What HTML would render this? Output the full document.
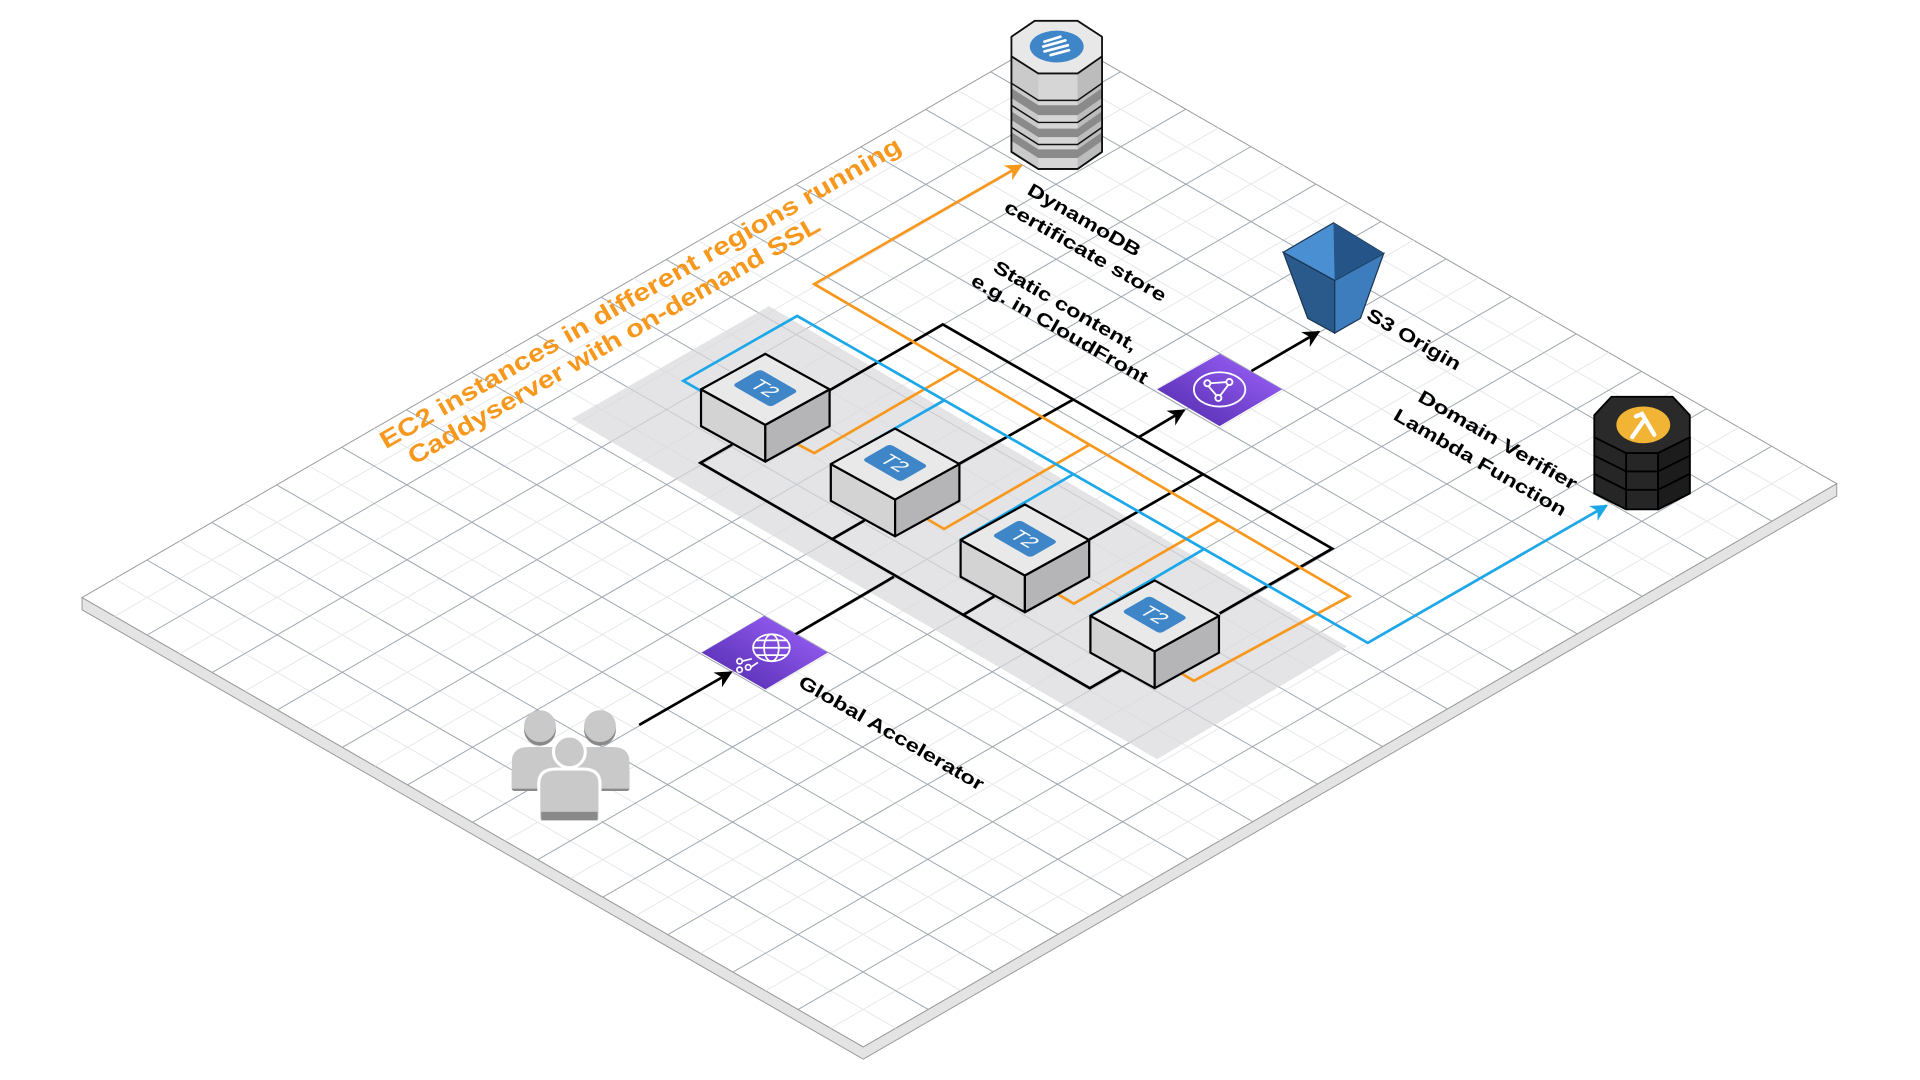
<!DOCTYPE html>
<html><head><meta charset="utf-8"><style>
html,body{margin:0;padding:0;background:#fff;width:1920px;height:1080px;overflow:hidden}
svg{display:block}
text{font-family:"Liberation Sans",sans-serif;font-weight:bold}
</style></head><body>
<svg width="1920" height="1080" viewBox="0 0 1568 882" xmlns="http://www.w3.org/2000/svg">
<defs>
<marker id="ab" viewBox="0 0 10 10" refX="9" refY="5" markerWidth="14" markerHeight="14" markerUnits="userSpaceOnUse" orient="auto"><path d="M0,0 L10,5 L0,10 L3,5 Z" fill="#000"/></marker>
<marker id="ao" viewBox="0 0 10 10" refX="9" refY="5" markerWidth="14" markerHeight="14" markerUnits="userSpaceOnUse" orient="auto"><path d="M0,0 L10,5 L0,10 L3,5 Z" fill="#f7981d"/></marker>
<marker id="abl" viewBox="0 0 10 10" refX="9" refY="5" markerWidth="14" markerHeight="14" markerUnits="userSpaceOnUse" orient="auto"><path d="M0,0 L10,5 L0,10 L3,5 Z" fill="#1ba7e8"/></marker>
<linearGradient id="pg" x1="0" y1="1" x2="1" y2="0"><stop offset="0" stop-color="#4d27a8"/><stop offset="1" stop-color="#a166ff"/></linearGradient>
</defs>
<polygon points="67,488 705,855 1500,395 1500,405 705,865 67,498" fill="#e4e4e4" stroke="#9a9a9a" stroke-width="0.8"/>
<polygon points="67,488 862,28 1500,395 705,855" fill="#fff" stroke="#9a9a9a" stroke-width="0.8"/>
<g transform="matrix(53.167 30.583 53 -30.667 67 488)" fill="none">
<path vector-effect="non-scaling-stroke" stroke="#e6e8ea" stroke-width="1" d="M0.5,0 L0.5,15 M1.5,0 L1.5,15 M2.5,0 L2.5,15 M3.5,0 L3.5,15 M4.5,0 L4.5,15 M5.5,0 L5.5,15 M6.5,0 L6.5,15 M7.5,0 L7.5,15 M8.5,0 L8.5,15 M9.5,0 L9.5,15 M10.5,0 L10.5,15 M11.5,0 L11.5,15 M0,0.5 L12,0.5 M0,1.5 L12,1.5 M0,2.5 L12,2.5 M0,3.5 L12,3.5 M0,4.5 L12,4.5 M0,5.5 L12,5.5 M0,6.5 L12,6.5 M0,7.5 L12,7.5 M0,8.5 L12,8.5 M0,9.5 L12,9.5 M0,10.5 L12,10.5 M0,11.5 L12,11.5 M0,12.5 L12,12.5 M0,13.5 L12,13.5 M0,14.5 L12,14.5"/>
<path vector-effect="non-scaling-stroke" stroke="#9ea7b1" stroke-width="1" d="M1,0 L1,15 M2,0 L2,15 M3,0 L3,15 M4,0 L4,15 M5,0 L5,15 M6,0 L6,15 M7,0 L7,15 M8,0 L8,15 M9,0 L9,15 M10,0 L10,15 M11,0 L11,15 M0,1 L12,1 M0,2 L12,2 M0,3 L12,3 M0,4 L12,4 M0,5 L12,5 M0,6 L12,6 M0,7 L12,7 M0,8 L12,8 M0,9 L12,9 M0,10 L12,10 M0,11 L12,11 M0,12 L12,12 M0,13 L12,13 M0,14 L12,14"/>
</g>
<polygon points="467,342 628,250 1100,528 945,620" fill="#d8d9db" opacity="0.7"/>
<g fill="none" stroke-width="2.2" stroke-linejoin="miter">
<path stroke="#000" d="M677,319 L770,265 L1088,448 L996,501 M783,379 L877,326 M889,441 L983,387 M598,363 L572,378 L890,562 L916,547 M680,440 L706,425 M787,502 L812,487 M648,519 L730,471"/>
<path stroke="#f7981d" d="M958,546 L975,556 L1102,487 L665,232 L834,135" marker-end="url(#ao)"/>
<path stroke="#f7981d" d="M648,361 L665,370 L784,301 M754,422 L771,432 L890,363 M860,483 L877,493 L995,425"/>
<path stroke="#1ba7e8" d="M572,319 L558,311 L651,258 L1117,525 L1312,413" marker-end="url(#abl)"/>
<path stroke="#1ba7e8" d="M678,380 L771,327 M784,441 L877,387 M890,503 L984,448"/>
<path stroke="#000" d="M522,592 L597,549" marker-end="url(#ab)"/>
<path stroke="#000" d="M930,357 L967,335" marker-end="url(#ab)"/>
<path stroke="#000" d="M1022,303 L1077,271" marker-end="url(#ab)"/>
</g>
<g stroke="#000" stroke-width="1.8" stroke-linejoin="round">
<g transform="translate(625,289)"><polygon points="-52.5,29 0,58 0,88 -52.5,59" fill="#d3d3d3"/><polygon points="0,58 52.5,29 52.5,59 0,88" fill="#b5b5b7"/><polygon points="0,0 52.5,29 0,58 -52.5,29" fill="#e9e9ea"/></g>
<g transform="translate(731,350)"><polygon points="-52.5,29 0,58 0,88 -52.5,59" fill="#d3d3d3"/><polygon points="0,58 52.5,29 52.5,59 0,88" fill="#b5b5b7"/><polygon points="0,0 52.5,29 0,58 -52.5,29" fill="#e9e9ea"/></g>
<g transform="translate(837,412)"><polygon points="-52.5,29 0,58 0,88 -52.5,59" fill="#d3d3d3"/><polygon points="0,58 52.5,29 52.5,59 0,88" fill="#b5b5b7"/><polygon points="0,0 52.5,29 0,58 -52.5,29" fill="#e9e9ea"/></g>
<g transform="translate(943,474)"><polygon points="-52.5,29 0,58 0,88 -52.5,59" fill="#d3d3d3"/><polygon points="0,58 52.5,29 52.5,59 0,88" fill="#b5b5b7"/><polygon points="0,0 52.5,29 0,58 -52.5,29" fill="#e9e9ea"/></g>
</g>
<g>
<g transform="matrix(0.866 0.5 -0.866 0.5 625 317)"><rect x="-18" y="-13" width="36" height="26" rx="3" fill="#3f86c8"/><text x="0" y="6" font-size="17" fill="#fff" text-anchor="middle" style="font-weight:normal">T2</text></g>
<g transform="matrix(0.866 0.5 -0.866 0.5 731 378)"><rect x="-18" y="-13" width="36" height="26" rx="3" fill="#3f86c8"/><text x="0" y="6" font-size="17" fill="#fff" text-anchor="middle" style="font-weight:normal">T2</text></g>
<g transform="matrix(0.866 0.5 -0.866 0.5 837 440)"><rect x="-18" y="-13" width="36" height="26" rx="3" fill="#3f86c8"/><text x="0" y="6" font-size="17" fill="#fff" text-anchor="middle" style="font-weight:normal">T2</text></g>
<g transform="matrix(0.866 0.5 -0.866 0.5 943 502)"><rect x="-18" y="-13" width="36" height="26" rx="3" fill="#3f86c8"/><text x="0" y="6" font-size="17" fill="#fff" text-anchor="middle" style="font-weight:normal">T2</text></g>
</g>
<polygon points="945,318 996,289 1047,318 996,348" fill="url(#pg)"/>
<g fill="none" stroke="#fff" stroke-width="1.5"><ellipse cx="996" cy="318" rx="21" ry="14"/><circle cx="986" cy="313" r="2.5"/><circle cx="1004" cy="312" r="2.5"/><circle cx="995" cy="325" r="2.5"/><path d="M988.5,313 L1001.5,312 M1003,314.5 L996.5,323 M987,315.5 L993.5,323"/></g>
<polygon points="573,533 624,503 676,533 625,563" fill="url(#pg)"/>
<g fill="none" stroke="#fff" stroke-width="1.4"><ellipse cx="630" cy="529" rx="15" ry="11"/><ellipse cx="630" cy="529" rx="6" ry="11"/><path d="M615,529 L645,529 M617,523 L643,523 M617,535 L643,535"/><circle cx="604" cy="540" r="2.2"/><circle cx="611" cy="545" r="2.2"/><circle cx="604" cy="547" r="2.2"/><path d="M606,540 L614,538 M613,545 L619,541"/></g>
<polygon points="1048,206 1090,229 1090,272 1068,260" fill="#2a5a8c" stroke="#1b3550" stroke-width="1"/>
<polygon points="1090,229 1130,207 1111,260 1090,272" fill="#3e7dbd" stroke="#1b3550" stroke-width="1"/>
<polygon points="1048,206 1089,182 1130,207 1090,229" fill="#4a8fd2" stroke="#1b3550" stroke-width="1"/>
<polygon points="1089,182 1130,207 1090,229" fill="#245488"/>
<g stroke="#111" stroke-width="1.5" stroke-linejoin="round">
<path d="M826,46 L826,124 L848,138 L880,138 L900,124 L900,46 Z" fill="#d6d6d6"/>
<path d="M880,60 L900,46 L900,124 L880,138 Z" fill="#bcbcbc" stroke="none"/>
<path d="M826,46 L848,60 L848,138 L826,124 Z" fill="#cacaca" stroke="none"/>
<path d="M826,72 L848,86 L880,86 L900,72 L900,80 L880,94 L848,94 L826,80 Z" fill="#8a8a8a" stroke="none"/>
<path d="M826,91 L848,105 L880,105 L900,91 L900,98 L880,112 L848,112 L826,98 Z" fill="#8a8a8a" stroke="none"/>
<path d="M826,108 L848,122 L880,122 L900,108 L900,115 L880,129 L848,129 L826,115 Z" fill="#8a8a8a" stroke="none"/>
<path d="M826,46 L826,124 L848,138 L880,138 L900,124 L900,46" fill="none"/>
<path d="M826,68 L848,82 L880,82 L900,68 M826,86 L848,100 L880,100 L900,86 M826,104 L848,118 L880,118 L900,104" fill="none" stroke-width="1.2"/>
<polygon points="826,30 845,17 880,17 900,30 900,46 880,60 848,60 826,46" fill="#e8e8e8"/>
</g>
<ellipse cx="863" cy="38" rx="22" ry="13" fill="#3f86c8"/>
<g stroke="#fff" stroke-width="2.2" fill="none" stroke-linecap="round"><path d="M853,34 L866,30 M852,38 L870,33 M853,42 L872,37 M858,45 L873,41"/></g>
<g stroke="#000" stroke-width="1.5" stroke-linejoin="round">
<path d="M1302,357 L1302,403 L1328,416 L1354,416 L1380,403 L1380,357 Z" fill="#262626"/>
<path d="M1354,370 L1380,357 L1380,403 L1354,416 Z" fill="#1c1c1c"/>
<path d="M1302,372 L1328,385 L1354,385 L1380,372 M1302,387 L1328,400 L1354,400 L1380,387 M1328,370 L1328,416 M1354,370 L1354,416" fill="none"/>
<polygon points="1302,339 1316,324 1366,324 1380,339 1380,357 1354,370 1328,370 1302,357" fill="#2a2a2a"/>
</g>
<ellipse cx="1342" cy="347" rx="22" ry="15" fill="#f1b434"/>
<path d="M1333,357 L1342,344 M1336,340 L1341,338 L1351,355" stroke="#fff" stroke-width="3.5" fill="none" stroke-linecap="round"/>
<g fill="#c9c9c9">
<rect x="418" y="628" width="46" height="18" fill="#8a8a8a" rx="2"/>
<rect x="468" y="628" width="46" height="18" fill="#8a8a8a" rx="2"/>
<path d="M418,644 L418,622 Q418,610 432,610 L450,610 Q464,610 464,622 L464,644 Z"/>
<path d="M468,644 L468,622 Q468,610 482,610 L500,610 Q514,610 514,622 L514,644 Z"/>
<circle cx="441" cy="596" r="13" fill="#8a8a8a"/><circle cx="441" cy="593" r="13"/>
<circle cx="490" cy="596" r="13" fill="#8a8a8a"/><circle cx="490" cy="593" r="13"/>
<path d="M440,670 L440,640 Q440,628 454,628 L476,628 Q490,628 490,640 L490,670 Z" stroke="#fff" stroke-width="2.5"/>
<rect x="442" y="663" width="46" height="7" fill="#8a8a8a"/>
<circle cx="465" cy="614" r="13" stroke="#fff" stroke-width="2.5"/>
</g>
<g font-size="15" fill="#000">
<text transform="translate(838,158) rotate(30)" textLength="104" lengthAdjust="spacingAndGlyphs">DynamoDB</text>
<text transform="translate(819,172) rotate(30)" textLength="150" lengthAdjust="spacingAndGlyphs">certificate store</text>
<text transform="translate(810,221) rotate(30)" textLength="133" lengthAdjust="spacingAndGlyphs">Static content,</text>
<text transform="translate(792,232) rotate(30)" textLength="164" lengthAdjust="spacingAndGlyphs">e.g. in CloudFront</text>
<text transform="translate(1115,260) rotate(30)" textLength="86" lengthAdjust="spacingAndGlyphs">S3 Origin</text>
<text transform="translate(1157,327) rotate(30)" textLength="147" lengthAdjust="spacingAndGlyphs">Domain Verifier</text>
<text transform="translate(1137,342) rotate(30)" textLength="160" lengthAdjust="spacingAndGlyphs">Lambda Function</text>
<text transform="translate(651,560) rotate(30)" textLength="172" lengthAdjust="spacingAndGlyphs">Global Accelerator</text>
</g>
<g font-size="20" fill="#f7981d">
<text transform="translate(315,367) rotate(-30)" textLength="488" lengthAdjust="spacingAndGlyphs">EC2 instances in different regions running</text>
<text transform="translate(338,380) rotate(-30)" textLength="385" lengthAdjust="spacingAndGlyphs">Caddyserver with on-demand SSL</text>
</g>
</svg>
</body></html>
